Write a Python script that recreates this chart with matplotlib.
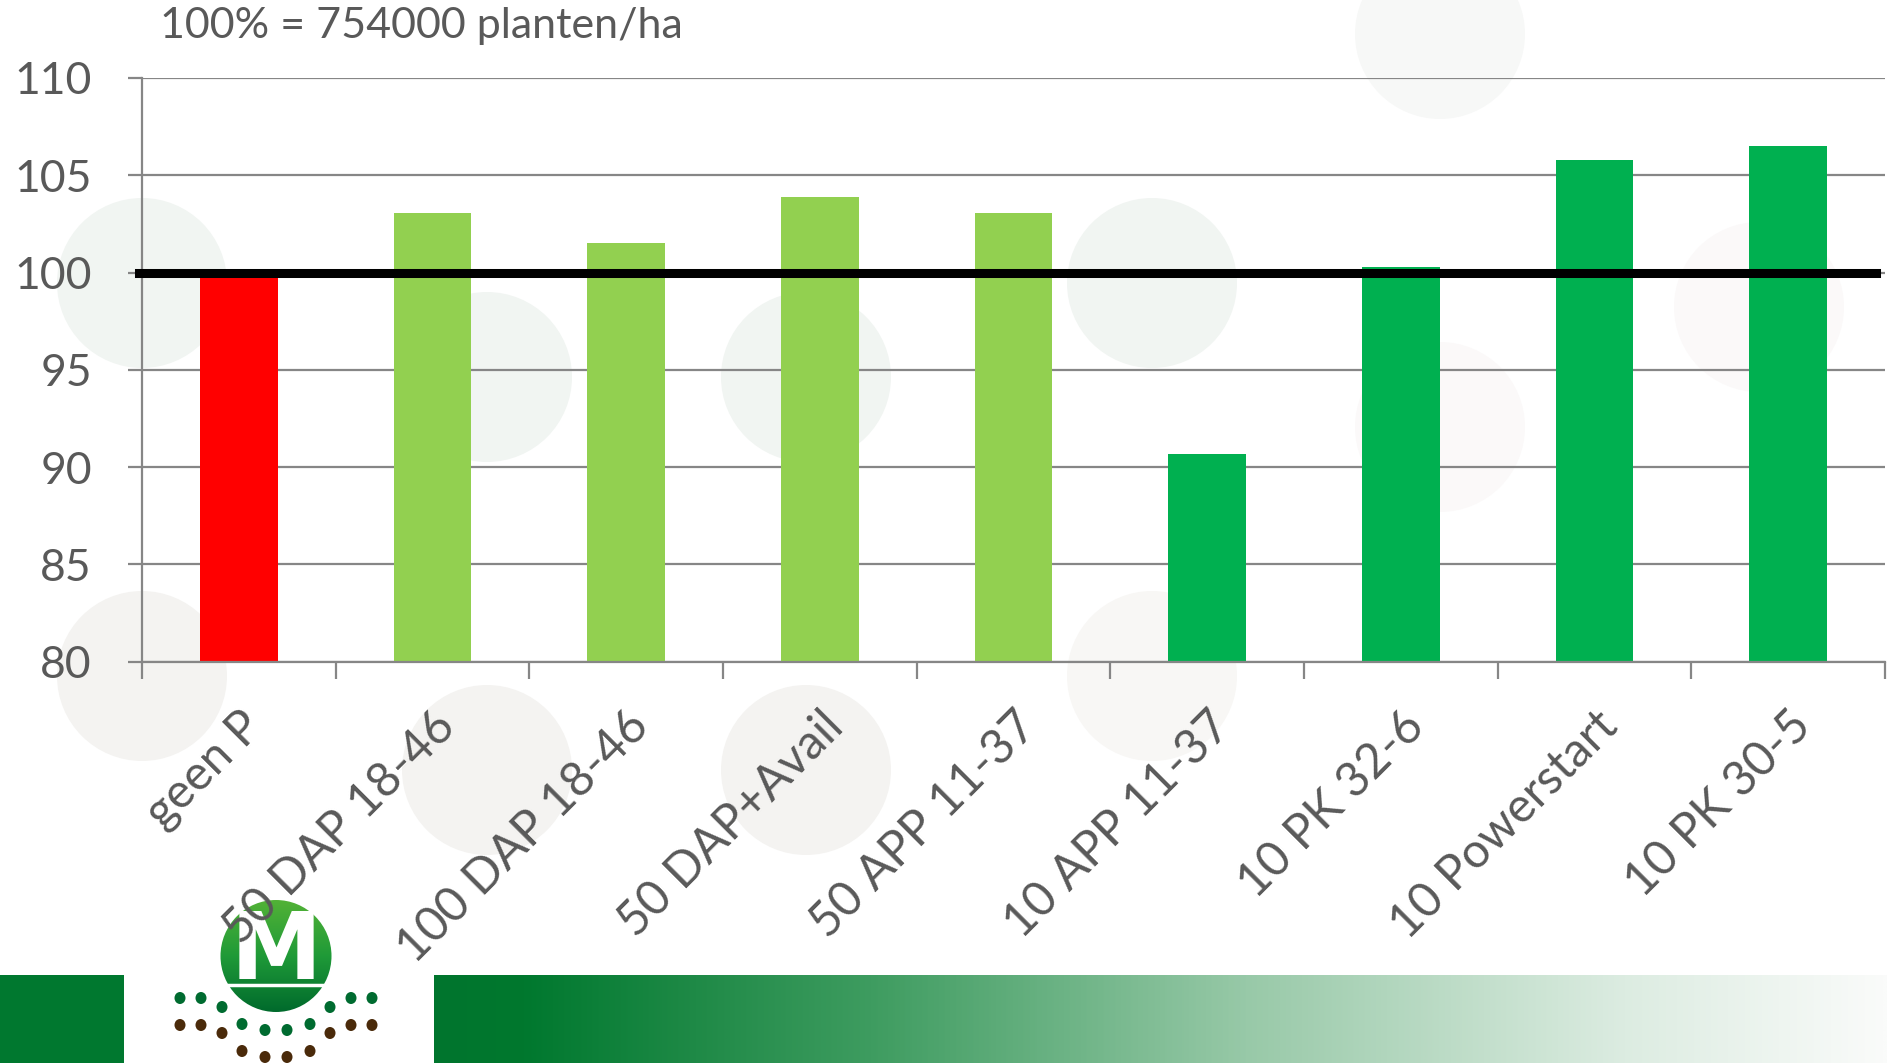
import numpy as np
import matplotlib
matplotlib.use("Agg")
import matplotlib.pyplot as plt
from matplotlib.patches import Ellipse, Rectangle
from matplotlib.colors import LinearSegmentedColormap
from matplotlib.transforms import ScaledTranslation

plt.rcParams['font.family'] = ['Lato', 'DejaVu Sans']

# ---- data -------------------------------------------------------------
categories = ["geen P", "50 DAP 18-46", "100 DAP 18-46", "50 DAP+Avail",
              "50 APP 11-37", "10 APP 11-37", "10 PK 32-6", "10 Powerstart",
              "10 PK 30-5"]
values = [99.8, 103.05, 101.5, 103.9, 103.05, 90.7, 100.3, 105.8, 106.5]
bar_colors = ["#FF0000", "#92D050", "#92D050", "#92D050", "#92D050",
              "#00B050", "#00B050", "#00B050", "#00B050"]
reference_level = 100
y_ticks = [80, 85, 90, 95, 100, 105, 110]
title_text = "100% = 754000 planten/ha"

W, H = 1887, 1063
TEXT = "#595959"
GRID = "#868686"

fig = plt.figure(figsize=(W / 100, H / 100), dpi=100)

# ---- decorative background layer (pixel coordinates) --------------------
bg = fig.add_axes([0, 0, 1, 1], zorder=0)
bg.set_xlim(0, W)
bg.set_ylim(H, 0)
bg.axis("off")

soft_circles = [
    ((142, 283), "#F1F5F2"), ((487, 377), "#F1F5F2"), ((806, 377), "#F1F5F2"),
    ((1152, 283), "#F1F5F2"), ((1440, 34), "#F7F8F7"), ((1440, 427), "#FBF9F9"),
    ((1759, 307), "#FBF9F9"), ((142, 676), "#F4F3F1"), ((487, 770), "#F4F3F1"),
    ((806, 770), "#F4F3F1"), ((1152, 676), "#F8F7F5"),
]
for (cx, cy), col in soft_circles:
    bg.add_patch(Ellipse((cx, cy), 170, 170, color=col, lw=0))

# bottom band: solid block on the left, fading green strip on the right
bg.add_patch(Rectangle((0, 975), 124, 88, color="#00782F", lw=0))
fade = LinearSegmentedColormap.from_list(
    "fade", [(0.0, "#00752D"), (0.06, "#00782E"), (0.3, "#3E9C60"),
             (0.56, "#98C9A8"), (0.82, "#DCECE1"), (1.0, "#FAFBFA")])
bg.imshow(np.linspace(0, 1, 512)[None, :], cmap=fade, aspect="auto",
          extent=(434, W, H, 975), zorder=1)

# logo: shaded disc with a white M and rows of seed dots
disc = Ellipse((276, 956), 111, 112, transform=bg.transData, lw=0, fc="none")
bg.add_patch(disc)
shade = LinearSegmentedColormap.from_list("shade", ["#52B236", "#1F9A38", "#006A2C"])
img = bg.imshow(np.linspace(0, 1, 256)[:, None], cmap=shade, aspect="auto",
                extent=(220, 332, 1012, 900), zorder=2)
img.set_clip_path(disc)
bg.plot([222, 330], [985, 985], color="white", lw=2.5, zorder=3)
bg.text(276, 953, "M", color="white", fontsize=66, fontweight="bold",
        family="DejaVu Sans", ha="center", va="center", zorder=4)

green_dots = [(180, 998), (201, 998), (351, 998), (372, 998), (222, 1007),
              (330, 1007), (242, 1024), (310, 1024), (265, 1030), (287, 1030)]
brown_dots = [(180, 1025), (201, 1025), (351, 1025), (372, 1025), (222, 1033),
              (330, 1033), (242, 1051), (310, 1051), (265, 1057), (287, 1057)]
for (x, y) in green_dots:
    bg.add_patch(Ellipse((x, y), 11, 12, color="#006B30", lw=0, zorder=3))
for (x, y) in brown_dots:
    bg.add_patch(Ellipse((x, y), 11, 12, color="#4A2A0A", lw=0, zorder=3))

# ---- main chart --------------------------------------------------------
left, right = 142 / W, 1885 / W
top, bottom = 1 - 78 / H, 1 - 661.7 / H
ax = fig.add_axes([left, bottom, right - left, top - bottom], zorder=2)
ax.patch.set_alpha(0)

x = np.arange(len(categories))
ax.bar(x, [v - y_ticks[0] for v in values], bottom=y_ticks[0], width=0.4,
       color=bar_colors, zorder=2)
ax.axhline(reference_level, xmin=-0.002, xmax=0.995, color="black", lw=6.5,
           clip_on=False, zorder=3)

ax.set_xlim(-0.5, len(categories) - 0.5)
ax.set_ylim(y_ticks[0], y_ticks[-1])
ax.set_yticks(y_ticks)
ax.yaxis.grid(True, color=GRID, lw=1.6)
ax.set_axisbelow(True)

ax.set_xticks(np.arange(len(categories) + 1) - 0.5)
ax.set_xticklabels([])
ax.set_xticks(x, minor=True)
ax.set_xticklabels(categories, minor=True, rotation=45, ha="right", va="top",
                   rotation_mode="anchor")
shift = ScaledTranslation(-14 / 72, 0, fig.dpi_scale_trans)
for lab in ax.get_xticklabels(minor=True):
    lab.set_transform(lab.get_transform() + shift)

ax.tick_params(axis="y", length=10, width=1.6, color=GRID, pad=26,
               labelsize=32, labelcolor=TEXT)
ax.tick_params(axis="x", which="major", length=12, width=1.6, color=GRID)
ax.tick_params(axis="x", which="minor", length=0, pad=30, labelsize=34.5,
               labelcolor=TEXT)

for side in ("top", "right"):
    ax.spines[side].set_visible(False)
for side in ("left", "bottom"):
    ax.spines[side].set_color(GRID)
    ax.spines[side].set_linewidth(1.6)

fig.text(160 / W, 1 - 26 / H, title_text, ha="left", va="center",
         fontsize=31, color=TEXT)

fig.savefig("out.png", dpi=100)
